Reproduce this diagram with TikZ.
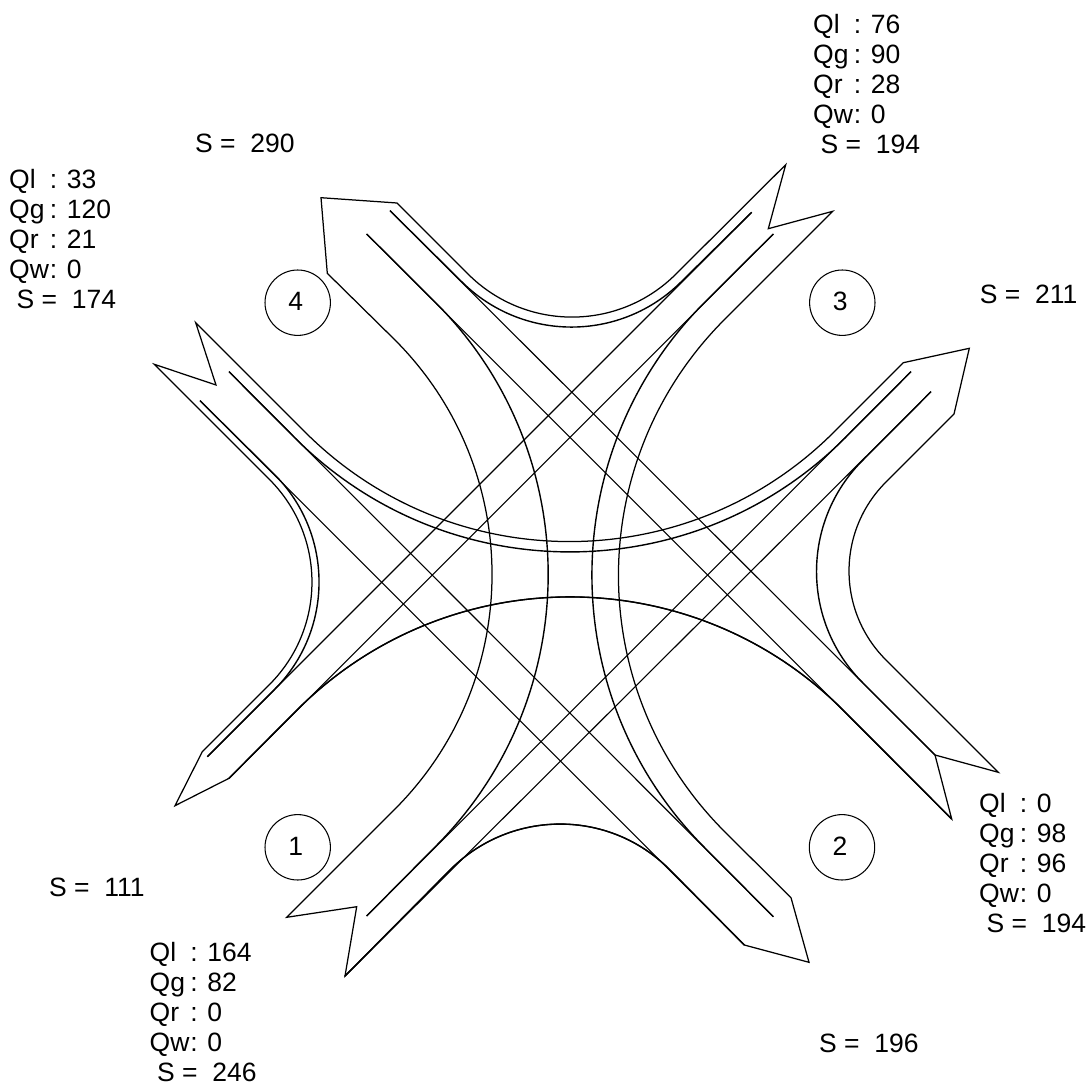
\documentclass[tikz,border=0pt]{standalone}
\usepackage{fontspec}
\setmainfont{Liberation Sans}
\usetikzlibrary{calc}
\tikzset{
  road/.style={black,line width=1.25pt,line join=miter,miter limit=20},
  lane/.style={black,line width=1.4pt,line cap=butt},
  thru/.style={black,line width=1.1pt},
  ringnode/.style={circle,draw=black,line width=1.05pt,minimum size=65.4pt,inner sep=0pt,font=\fontsize{26.5}{30}\selectfont},
  lab/.style={anchor=north west,inner sep=0pt,align=left,font=\fontsize{26.5}{30}\selectfont},
}
\newcommand{\bend}[3]{(#1) .. controls ($(#1)!0.5523!(#2)$) and ($(#3)!0.5523!(#2)$) .. (#3)}
\newcommand{\ringtext}[1]{\raisebox{2.2pt}{\hspace*{-4pt}#1}}
\newcommand{\qrow}[2]{\makebox[40.6pt][l]{#1}: #2}
\begin{document}
\begin{tikzpicture}[x=1pt,y=-1pt]
\useasboundingbox (0,0) rectangle (1089,1086);
% outlines
\draw[road] (321,197.7) -- (397,203) -- \bend{468,274}{572,378}{676,274} -- (785.7,164.7) -- (768.3,228.7) -- (832.7,211.3)
  -- \bend{724.5,319.5}{468.5,575.5}{724.5,831.5} -- (791,897.7) -- (809,962.3) -- (744.3,945)
  -- \bend{669,869}{560.5,760.5}{451,869} -- (345,976) -- (356.7,906.7) -- (286.7,917.3)
  -- \bend{394.8,809.2}{629.5,574.5}{394.8,339.8} -- (327.3,273.3) -- cycle;
\draw[road] (175,805.7) -- (202.3,751.7) -- \bend{269.5,684.5}{372,582}{269.5,479.5} -- (154.3,364.3) -- (216,385) -- (195.7,322.7)
  -- \bend{305,432}{569.5,696.5}{834,432} -- (903.3,362.7) -- (969.3,348.3) -- (954,414)
  -- \bend{885.8,482.2}{797,571}{885.8,659.8} -- (998.3,772.3) -- (935,755) -- (951.7,819)
  -- \bend{843,710}{570,437}{297,710} -- (229,778.3) -- cycle;
% lanes with turns
\draw[lane] (390,210.7) -- \bend{461.5,281.5}{571.5,391.5}{681.5,281.5} -- (751.7,212.3);
\draw[lane] (366.7,234) -- \bend{435.5,302.5}{707.5,574.5}{435.5,846.5} -- (366.7,916);
\draw[lane] (773.3,234) -- \bend{705,302}{432,575}{705,848} -- (773.3,916.7);
\draw[lane] (911,371.7) -- \bend{845,438}{570,713}{295,438} -- (229,371.7);
\draw[lane] (200,400.7) -- \bend{274.5,474.5}{382,582}{274.5,689.5} -- (207.3,756.7);
\draw[lane] (931,391.7) -- \bend{862.5,460.5}{751.5,571.5}{862.5,682.5} -- (935,755);
\draw[lane] (229,778.3) -- \bend{297,710}{570,437}{843,710} -- (951.7,819);
\draw[lane] (345,976) -- \bend{451,869}{560.5,760.5}{669,869} -- (744.3,945);
% straight through lanes
\draw[thru] (390,210.7) -- (935,755);
\draw[thru] (366.7,234) -- (951.7,819);
\draw[thru] (200,400.7) -- (744.3,945);
\draw[thru] (229,371.7) -- (773.3,916.7);
\draw[thru] (207.3,756.7) -- (751.7,212.3);
\draw[thru] (229,778.3) -- (773.3,234);
\draw[thru] (366.7,916) -- (911,371.7);
\draw[thru] (345,976) -- (931,391.7);
% numbered circles
\node[ringnode] (c1) at (297.7,847.3) {\ringtext{1}};
\node[ringnode] (c2) at (842,847.3) {\ringtext{2}};
\node[ringnode] (c3) at (842.3,302.7) {\ringtext{3}};
\node[ringnode] (c4) at (297.7,302.7) {\ringtext{4}};
% labels
\node[lab] (b3) at (813,14) {\qrow{Ql}{76}\\\qrow{Qg}{90}\\\qrow{Qr}{28}\\\qrow{Qw}{0}\\\ S =\ \ 194};
\node[lab] (b4) at (9,169) {\qrow{Ql}{33}\\\qrow{Qg}{120}\\\qrow{Qr}{21}\\\qrow{Qw}{0}\\\ S =\ \ 174};
\node[lab] (b1) at (149.5,941.7) {\qrow{Ql}{164}\\\qrow{Qg}{82}\\\qrow{Qr}{0}\\\qrow{Qw}{0}\\\ S =\ \ 246};
\node[lab] (b2) at (979,792.7) {\qrow{Ql}{0}\\\qrow{Qg}{98}\\\qrow{Qr}{96}\\\qrow{Qw}{0}\\\ S =\ \ 194};
\node[lab] (s4) at (195,134) {S =\ \ 290};
\node[lab] (s3) at (979.7,285) {S =\ \ 211};
\node[lab] (s1) at (49,878) {S =\ \ 111};
\node[lab] (s2) at (819,1034) {S =\ \ 196};
\end{tikzpicture}
\end{document}
